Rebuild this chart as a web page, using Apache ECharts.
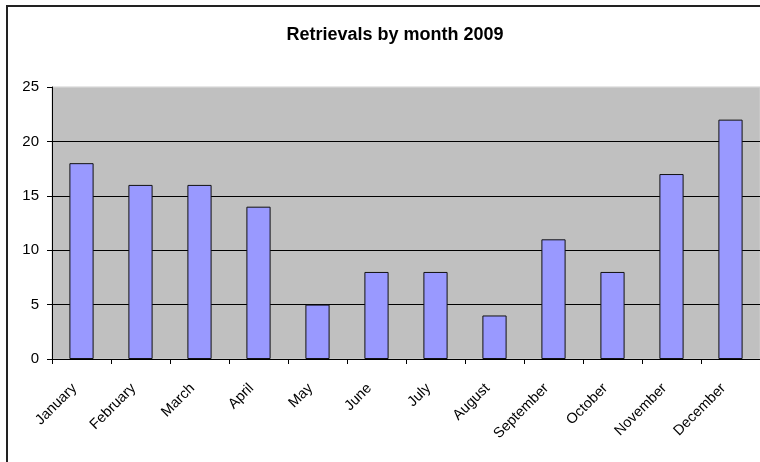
<!DOCTYPE html>
<html>
<head>
<meta charset="utf-8">
<script src="https://cdn.jsdelivr.net/npm/echarts@6/dist/echarts.min.js"></script>
<style>
  html, body { margin: 0; padding: 0; background: #fff; }
  #chart { width: 760px; height: 462px; }
</style>
</head>
<body>
<div id="chart"></div>
<script>
// Monthly retrieval counts for 2009
const months = ['January', 'February', 'March', 'April', 'May', 'June',
  'July', 'August', 'September', 'October', 'November', 'December'];
const retrievals = [18, 16, 16, 14, 5, 8, 8, 4, 11, 8, 17, 22];
const yTicks = [0, 5, 10, 15, 20, 25];

const FONT = 'Liberation Sans, Arial, sans-serif';
const chart = echarts.init(document.getElementById('chart'), null, { renderer: 'canvas' });

chart.setOption({
  animation: false,
  backgroundColor: '#ffffff',
  title: {
    text: 'Retrievals by month 2009',
    left: 390,
    textAlign: 'center',
    top: 21,
    textStyle: { fontFamily: FONT, fontSize: 18, fontWeight: 'bold', color: '#000' }
  },
  graphic: [{
    type: 'rect',
    shape: { x: 7, y: 6, width: 820, height: 520 },
    style: { fill: 'none', stroke: '#222', lineWidth: 2 },
    z: 100
  }],
  grid: {
    left: 52, top: 87, width: 710, height: 272,
    show: true, backgroundColor: '#C0C0C0', borderColor: '#cfcfcf', borderWidth: 1
  },
  xAxis: {
    type: 'category',
    data: months,
    axisLine: { show: true, lineStyle: { color: '#000', width: 1 } },
    axisTick: { show: true, alignWithLabel: false, length: 5, lineStyle: { color: '#000' } },
    axisLabel: {
      interval: 0, rotate: 45, margin: 20, padding: [0, 10, 0, 0],
      fontFamily: FONT, fontSize: 14.5, color: '#000'
    }
  },
  yAxis: {
    type: 'value',
    min: 0, max: 25, interval: 5,
    axisLine: { show: true, lineStyle: { color: '#000', width: 1 } },
    axisTick: { show: true, length: 5, lineStyle: { color: '#000' } },
    axisLabel: {
      margin: 13, fontFamily: FONT, fontSize: 15, color: '#000',
      formatter: v => yTicks.includes(v) ? String(v) : ''
    },
    splitLine: {
      show: true,
      lineStyle: { color: ['#000', '#000', '#000', '#000', '#000', '#cfcfcf'], width: 1 }
    }
  },
  series: [{
    type: 'bar',
    data: retrievals,
    barWidth: '41%',
    itemStyle: { color: '#9999FF', borderColor: '#111', borderWidth: 1 }
  }]
});
</script>
</body>
</html>
